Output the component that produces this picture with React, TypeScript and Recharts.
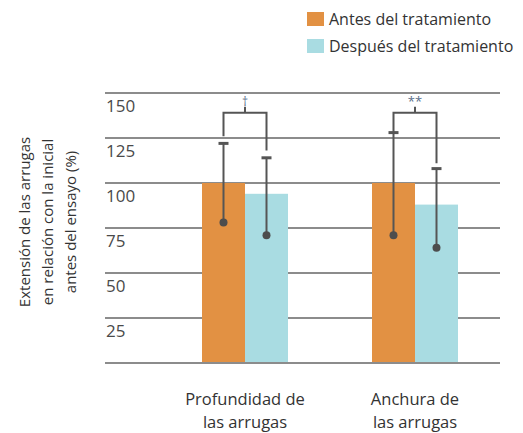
import React from 'react';
import { BarChart, Bar, XAxis, YAxis, CartesianGrid, Legend, Label } from 'recharts';

const categories = ['Profundidad de|las arrugas', 'Anchura de|las arrugas'];
const antes = [100, 100];
const despues = [94, 88];
const antesLow = [78, 71];
const antesHigh = [122, 128];
const despuesLow = [71, 64];
const despuesHigh = [114, 108];
const bracketLevel = [139, 139];
const bracketLeftEnd = [126, 128];
const bracketRightEnd = [118, 111];
const signif = ['\u2020', '**'];
const yTicks = [0, 25, 50, 75, 100, 125, 150];

const ORANGE = '#E29143';
const TEAL = '#A9DCE2';
const GRID = '#8c8c8c';
const INK = '#555555';
const FONT = '"Open Sans", sans-serif';

const data = categories.map((c, i) => ({
  name: c,
  antes: antes[i],
  despues: despues[i],
  antesLow: antesLow[i],
  antesHigh: antesHigh[i],
  despuesLow: despuesLow[i],
  despuesHigh: despuesHigh[i],
  bracket: bracketLevel[i],
  bracketL: bracketLeftEnd[i],
  bracketR: bracketRightEnd[i],
  signif: signif[i],
}));

// bar + whisker (dot at the low end, cap at the high end); the second series also draws the bracket
const makeShape = (valueKey: string, lowKey: string, highKey: string, withBracket: boolean) => (props: any) => {
  const { x, y, width, height, payload, fill } = props;
  const v = payload[valueKey];
  const py = (val: number) => y + height - (val / v) * height;
  const cx = x + width / 2;
  const low = py(payload[lowKey]);
  const high = py(payload[highKey]);
  let bracket = null;
  if (withBracket) {
    const lx = x - width / 2;
    const rx = cx;
    const by = py(payload.bracket);
    bracket = (
      <g>
        <path
          d={`M${lx},${py(payload.bracketL)} L${lx},${by} L${rx},${by} L${rx},${py(payload.bracketR)}`}
          stroke={INK}
          strokeWidth={2}
          fill="none"
        />
        <line x1={(lx + rx) / 2} x2={(lx + rx) / 2} y1={by} y2={by - 6} stroke={INK} strokeWidth={2} />
        <text
          x={(lx + rx) / 2}
          y={by - 7}
          textAnchor="middle"
          fontSize={payload.signif === '**' ? 13 : 12}
          fill="#5a6f8a"
          fontFamily={FONT}
        >
          {payload.signif}
        </text>
      </g>
    );
  }
  return (
    <g>
      <rect x={x} y={y} width={width} height={height} fill={fill} />
      <line x1={cx} x2={cx} y1={low} y2={high} stroke={INK} strokeWidth={2} />
      <line x1={cx - 5} x2={cx + 5} y1={high} y2={high} stroke={INK} strokeWidth={3} />
      <circle cx={cx} cy={low} r={4} fill="#4d4d4d" />
      {bracket}
    </g>
  );
};

const YTick = (props: any) => {
  const { x, y, payload } = props;
  if (payload.value === 0) return null;
  return (
    <text x={x + 1} y={y + 12} textAnchor="start" dominantBaseline="central" fontSize={17} fill="#4a4a4a" fontFamily={FONT}>
      {payload.value}
    </text>
  );
};

const XTick = (props: any) => {
  const { x, y, payload } = props;
  const lines = String(payload.value).split('|');
  return (
    <text x={x} y={y} textAnchor="middle" fontSize={16.5} fill="#333" fontFamily={FONT}>
      {lines.map((l, i) => (
        <tspan key={i} x={x} dy={i === 0 ? 34 : 23}>
          {l}
        </tspan>
      ))}
    </text>
  );
};

const YLabel = (props: any) => {
  const { viewBox } = props;
  const cy = viewBox.y + viewBox.height / 2 - 6;
  const cx = 24;
  const lines = ['Extensión de las arrugas', 'en relación con la inicial', 'antes del ensayo (%)'];
  return (
    <text transform={`translate(${cx},${cy}) rotate(-90)`} textAnchor="middle" fontSize={15} fill="#333" fontFamily={FONT}>
      {lines.map((l, i) => (
        <tspan key={i} x={0} y={i * 23} dominantBaseline="central">
          {l}
        </tspan>
      ))}
    </text>
  );
};

const LegendContent = (props: any) => {
  const { payload } = props;
  return (
    <div style={{ fontFamily: FONT, fontSize: 16, color: '#333' }}>
      {payload.map((p: any) => (
        <div key={p.value} style={{ display: 'flex', alignItems: 'center', height: 27 }}>
          <span style={{ width: 17, height: 14, background: p.color, marginRight: 5, display: 'inline-block' }} />
          <span>{p.value}</span>
        </div>
      ))}
    </div>
  );
};

export default function App() {
  return (
    <div>
      <style>{'body{margin:0}'}</style>
      <BarChart
        width={523}
        height={433}
        data={data}
        margin={{ top: 93, right: 23, bottom: 0, left: 60 }}
        barGap={0}
        barSize={43}
      >
        <CartesianGrid horizontal vertical={false} stroke={GRID} strokeWidth={1.8} />
        <XAxis
          dataKey="name"
          height={70}
          padding={{ left: 55, right: 0 }}
          axisLine={{ stroke: GRID, strokeWidth: 1.8 }}
          tickLine={false}
          tick={<XTick />}
          interval={0}
        />
        <YAxis
          width={45}
          domain={[0, 150]}
          ticks={yTicks}
          axisLine={false}
          tickLine={false}
          tickSize={0}
          tickMargin={0}
          tick={<YTick />}
        >
          <Label content={<YLabel />} />
        </YAxis>
        <Legend
          layout="vertical"
          align="center"
          verticalAlign="middle"
          content={<LegendContent />}
          wrapperStyle={{ top: 5, left: 307, width: 220 }}
        />
        <Bar
          dataKey="antes"
          name="Antes del tratamiento"
          fill={ORANGE}
          isAnimationActive={false}
          shape={makeShape('antes', 'antesLow', 'antesHigh', false)}
        />
        <Bar
          dataKey="despues"
          name="Después del tratamiento"
          fill={TEAL}
          isAnimationActive={false}
          shape={makeShape('despues', 'despuesLow', 'despuesHigh', true)}
        />
      </BarChart>
    </div>
  );
}
